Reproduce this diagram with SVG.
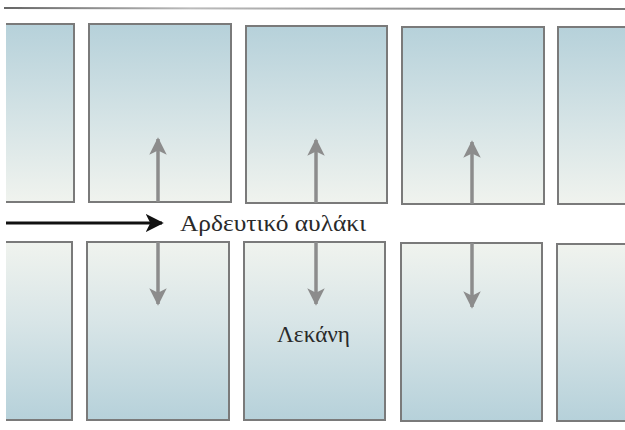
<svg xmlns="http://www.w3.org/2000/svg" width="625" height="430" viewBox="0 0 625 430">
<defs>
<linearGradient id="gTop" x1="0" y1="0" x2="0" y2="1">
<stop offset="0" stop-color="#b6d1da"/>
<stop offset="0.55" stop-color="#d6e4e6"/>
<stop offset="1" stop-color="#f0f3ee"/>
</linearGradient>
<linearGradient id="gBot" x1="0" y1="0" x2="0" y2="1">
<stop offset="0" stop-color="#f0f3ee"/>
<stop offset="0.45" stop-color="#d8e5e7"/>
<stop offset="1" stop-color="#b6d1da"/>
</linearGradient>
<linearGradient id="gLine" x1="0" y1="0" x2="1" y2="0">
<stop offset="0" stop-color="#666"/>
<stop offset="0.3" stop-color="#bbb"/>
<stop offset="0.6" stop-color="#999"/>
<stop offset="1" stop-color="#777"/>
</linearGradient>
<marker id="ga" viewBox="0 0 10 10" refX="9" refY="5" markerWidth="5" markerHeight="5" orient="auto" markerUnits="strokeWidth">
<path d="M0,0 L10,5 L0,10 L2.5,5 Z" fill="#8c8c8c"/>
</marker>
<marker id="ba" viewBox="0 0 10 10" refX="9" refY="5" markerWidth="6" markerHeight="6" orient="auto" markerUnits="strokeWidth">
<path d="M0,0 L10,5 L0,10 L2.5,5 Z" fill="#111"/>
</marker>
</defs>
<style>
.top{fill:url(#gTop);stroke:#7a7a7a;stroke-width:2}
.bot{fill:url(#gBot);stroke:#7a7a7a;stroke-width:2}
.flow{stroke:#8c8c8c;stroke-width:3.5;fill:none;marker-end:url(#ga)}
.main{stroke:#111;stroke-width:3;fill:none;marker-end:url(#ba)}
.lbl{font-family:"Liberation Serif","DejaVu Serif",serif;font-size:24px;fill:#2a2a2a}
</style>
<rect width="625" height="430" fill="#ffffff"/>
<line x1="4" y1="8" x2="625" y2="9" stroke="url(#gLine)" stroke-width="2"/>
<g id="basin-top-1"><path class="top" d="M6,24 H74 V202 H6"/></g>
<g id="basin-top-2"><rect class="top" x="89" y="24" width="142" height="178"/></g>
<g id="basin-top-3"><rect class="top" x="246" y="26" width="141" height="177"/></g>
<g id="basin-top-4"><rect class="top" x="402" y="27" width="142" height="177"/></g>
<g id="basin-top-5"><path class="top" d="M626,27 H558 V204 H626"/></g>
<g id="basin-bot-1"><path class="bot" d="M6,242 H72 V420 H6"/></g>
<g id="basin-bot-2"><rect class="bot" x="87" y="242" width="142" height="178"/></g>
<g id="basin-bot-3"><rect class="bot" x="244" y="242" width="141" height="178"/></g>
<g id="basin-bot-4"><rect class="bot" x="401" y="243" width="141" height="178"/></g>
<g id="basin-bot-5"><path class="bot" d="M626,244 H557 V421 H626"/></g>
<g id="canal-label"><text class="lbl" x="180" y="231" textLength="186" lengthAdjust="spacingAndGlyphs">Αρδευτικό αυλάκι</text></g>
<g id="basin-label"><text class="lbl" x="277" y="342" textLength="73" lengthAdjust="spacingAndGlyphs">Λεκάνη</text></g>
<g id="connectors">
<line class="main" x1="6" y1="223" x2="162" y2="223"/>
<line class="flow" x1="158" y1="202" x2="158" y2="139"/>
<line class="flow" x1="316" y1="203" x2="316" y2="140"/>
<line class="flow" x1="472" y1="204" x2="472" y2="142"/>
<line class="flow" x1="158" y1="242" x2="158" y2="304"/>
<line class="flow" x1="316" y1="242" x2="316" y2="304"/>
<line class="flow" x1="472" y1="243" x2="472" y2="307"/>
</g>
</svg>
